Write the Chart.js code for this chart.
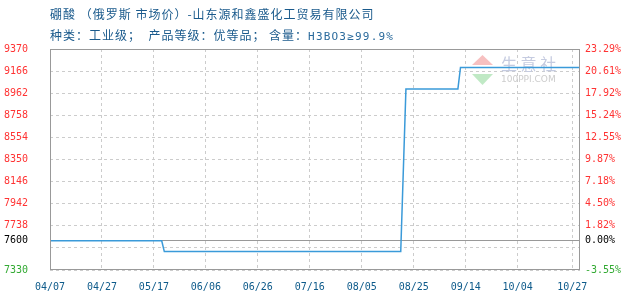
<!DOCTYPE html>
<html>
<head>
<meta charset="utf-8">
<script src="https://cdn.jsdelivr.net/npm/chart.js@4/dist/chart.umd.min.js"></script>
<style>
  body { margin: 0; background: #fff; }
  #wrap { position: relative; width: 630px; height: 300px; }
  .title { position: absolute; left: 50px; font: 12px "Noto Sans CJK SC"; letter-spacing: 1px; line-height: 16px; color: #1a5a8c; white-space: pre; }
  .title .mono { font: 11px "DejaVu Sans Mono"; letter-spacing: 1.2px; color: #2a6a9c; }
</style>
</head>
<body>
<div id="wrap">
  <canvas id="priceChart" width="630" height="300"></canvas>
  <div class="title" style="top:6px">硼酸 （俄罗斯 市场价）-山东源和鑫盛化工贸易有限公司</div>
  <div class="title" style="top:27px">种类：工业级；  产品等级：优等品； 含量：<span class="mono">H3BO3≥99.9%</span></div>
</div>
<script>
// days counted from 04/07
const tickDays = [0, 20, 40, 60, 80, 100, 120, 140, 160, 180, 201];
const tickLabels = ['04/07', '04/27', '05/17', '06/06', '06/26', '07/16', '08/05', '08/25', '09/14', '10/04', '10/27'];

const pointDays = [0, 43, 44, 135, 137, 157, 158, 204];
const prices = [7600, 7600, 7500, 7500, 9000, 9000, 9200, 9200];

const basePrice = 7600;
const yTicks = [9370, 9166, 8962, 8758, 8554, 8350, 8146, 7942, 7738, 7600, 7534, 7330];
const yLabels = ['9370', '9166', '8962', '8758', '8554', '8350', '8146', '7942', '7738', '7600', '', '7330'];
const pctLabels = ['23.29%', '20.61%', '17.92%', '15.24%', '12.55%', '9.87%', '7.18%', '4.50%', '1.82%', '0.00%', '', '-3.55%'];

const monoFont = { family: 'DejaVu Sans Mono', size: 10 };

function tickColor(v) {
    if (v > basePrice) return '#ff3333';
    if (v < basePrice) return '#33aa33';
    return '#000';
}

const decorPlugin = {
    id: 'decor',
    beforeDatasetsDraw(chart) {
        // 100ppi watermark
        const { ctx, chartArea: a } = chart;
        const x = a.right - 108, y = a.top + 6;
        ctx.save();
        ctx.fillStyle = 'rgba(240,140,140,0.55)';
        ctx.beginPath();
        ctx.moveTo(x + 10.5, y);
        ctx.lineTo(x + 21, y + 10);
        ctx.lineTo(x, y + 10);
        ctx.fill();
        ctx.fillStyle = 'rgba(140,215,150,0.55)';
        ctx.beginPath();
        ctx.moveTo(x, y + 19);
        ctx.lineTo(x + 21, y + 19);
        ctx.lineTo(x + 10.5, y + 30);
        ctx.fill();
        ctx.fillStyle = '#c5cbe0';
        ctx.font = '16px "Noto Sans CJK SC"';
        ctx.textBaseline = 'middle';
        ctx.fillText('生 意 社', x + 29, y + 9);
        ctx.fillStyle = '#cccccc';
        ctx.font = '9px "DejaVu Sans"';
        ctx.fillText('100PPI.COM', x + 29, y + 25);
        ctx.restore();
    },
    afterDraw(chart) {
        const { ctx, chartArea: a } = chart;
        ctx.save();
        ctx.strokeStyle = '#999';
        ctx.lineWidth = 1;
        ctx.strokeRect(a.left + 0.5, a.top + 0.5, a.right - a.left - 1, a.bottom - a.top - 1);
        ctx.restore();
    }
};

const setYTicks = scale => { scale.ticks = yTicks.map(v => ({ value: v })); };

new Chart(document.getElementById('priceChart').getContext('2d'), {
    type: 'line',
    data: {
        datasets: [{
            data: pointDays.map((d, i) => ({ x: d, y: prices[i] })),
            borderColor: '#3a9ad9',
            borderWidth: 1.5,
            pointRadius: 0,
            fill: false,
            tension: 0
        }]
    },
    options: {
        responsive: false,
        animation: false,
        layout: { padding: { top: 49, left: 0, right: 0, bottom: 0 } },
        plugins: { legend: { display: false }, tooltip: { enabled: false } },
        scales: {
            x: {
                type: 'linear',
                min: 0,
                max: 204,
                afterBuildTicks: scale => { scale.ticks = tickDays.map(v => ({ value: v })); },
                afterFit: scale => { scale.height = 30; },
                ticks: {
                    autoSkip: false,
                    maxRotation: 0,
                    padding: 11,
                    color: '#0d5a8a',
                    font: monoFont,
                    callback: v => tickLabels[tickDays.indexOf(v)]
                },
                grid: { color: '#cccccc', drawTicks: false },
                border: { display: false, dash: [3, 3] }
            },
            y: {
                position: 'left',
                min: 7330,
                max: 9370,
                afterBuildTicks: setYTicks,
                afterFit: scale => { scale.width = 50; },
                ticks: {
                    padding: 22,
                    font: monoFont,
                    color: c => tickColor(c.tick.value),
                    callback: v => yLabels[yTicks.indexOf(v)]
                },
                grid: {
                    drawTicks: false,
                    color: c => (c.tick && c.tick.value === basePrice) ? '#999' : '#cccccc'
                },
                border: {
                    display: false,
                    dash: c => (c.tick && c.tick.value === basePrice) ? [] : [3, 3]
                }
            },
            y1: {
                position: 'right',
                min: 7330,
                max: 9370,
                afterBuildTicks: setYTicks,
                afterFit: scale => { scale.width = 50; },
                ticks: {
                    padding: 5,
                    font: monoFont,
                    color: c => tickColor(c.tick.value),
                    callback: v => pctLabels[yTicks.indexOf(v)]
                },
                grid: { display: false, drawTicks: false },
                border: { display: false }
            }
        }
    },
    plugins: [decorPlugin]
});
</script>
</body>
</html>
